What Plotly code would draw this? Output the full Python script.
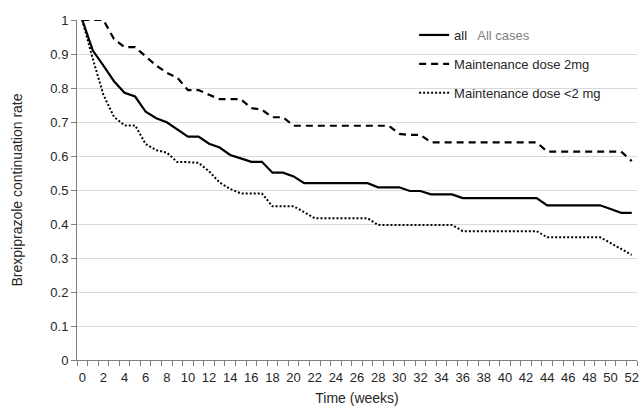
import plotly.graph_objects as go

weeks = list(range(53))

all_cases = [1.0, 0.91, 0.866, 0.82, 0.786, 0.775, 0.73, 0.711, 0.699, 0.678,
             0.657, 0.657, 0.636, 0.625, 0.603, 0.593, 0.583, 0.583, 0.551, 0.551,
             0.54, 0.52, 0.52, 0.52, 0.52, 0.52, 0.52, 0.52, 0.508, 0.508,
             0.508, 0.497, 0.497, 0.487, 0.487, 0.487, 0.476, 0.476, 0.476, 0.476,
             0.476, 0.476, 0.476, 0.476, 0.455, 0.455, 0.455, 0.455, 0.455, 0.455,
             0.444, 0.433, 0.433]

dose_2mg = [1.0, 1.0, 1.0, 0.944, 0.92, 0.92, 0.893, 0.866, 0.845, 0.83,
            0.794, 0.794, 0.78, 0.767, 0.767, 0.767, 0.741, 0.736, 0.714, 0.714,
            0.689, 0.689, 0.689, 0.689, 0.689, 0.689, 0.689, 0.689, 0.689, 0.689,
            0.665, 0.662, 0.662, 0.64, 0.64, 0.64, 0.64, 0.64, 0.64, 0.64,
            0.64, 0.64, 0.64, 0.64, 0.613, 0.613, 0.613, 0.613, 0.613, 0.613,
            0.613, 0.613, 0.585]

dose_lt2mg = [1.0, 0.885, 0.78, 0.715, 0.69, 0.69, 0.635, 0.617, 0.61, 0.582,
              0.582, 0.58, 0.555, 0.522, 0.503, 0.49, 0.49, 0.49, 0.452, 0.452,
              0.452, 0.435, 0.417, 0.417, 0.417, 0.417, 0.417, 0.417, 0.397, 0.397,
              0.397, 0.397, 0.397, 0.397, 0.397, 0.397, 0.379, 0.379, 0.379, 0.379,
              0.379, 0.379, 0.379, 0.379, 0.361, 0.361, 0.361, 0.361, 0.361, 0.361,
              0.344, 0.327, 0.309]

series_names = ["all <span style='color:#7f7f7f'>  All cases</span>",
                "Maintenance dose 2mg",
                "Maintenance dose <2 mg"]

y_ticks = [i / 10 for i in range(11)]
y_ticktext = ["0", "0.1", "0.2", "0.3", "0.4", "0.5", "0.6", "0.7", "0.8", "0.9", "1"]
x_label_ticks = list(range(0, 53, 2))
x_boundaries = [w - 0.5 for w in range(54)]

FONT = "Liberation Sans, Arial, sans-serif"
TXT = "#262626"

fig = go.Figure()
fig.add_trace(go.Scatter(x=weeks, y=all_cases, mode="lines", name=series_names[0],
                         line=dict(color="black", width=2.2), legendgroup="a"))
fig.add_trace(go.Scatter(x=weeks, y=dose_2mg, mode="lines", name=series_names[1],
                         line=dict(color="black", width=2.2, dash="7px,5px"), legendgroup="b"))
fig.add_trace(go.Scatter(x=weeks, y=dose_lt2mg, mode="lines", name=series_names[2],
                         line=dict(color="black", width=2, dash="2px,2px"), legendgroup="c"))

fig.update_layout(
    width=642, height=409,
    margin=dict(l=77, r=5, t=20, b=49),
    paper_bgcolor="white", plot_bgcolor="white",
    font=dict(family=FONT, size=13, color=TXT),
    legend=dict(x=0.602, y=1.0, xanchor="left", yanchor="top",
                bgcolor="rgba(0,0,0,0)", tracegroupgap=9,
                font=dict(size=13, color=TXT)),
    showlegend=True,
)

fig.update_xaxes(
    range=[-0.5, 52.5], showgrid=False, zeroline=False,
    showline=True, linecolor="#7f7f7f", linewidth=1,
    tickmode="array", tickvals=x_label_ticks,
    ticktext=[str(t) for t in x_label_ticks],
    ticks="outside", ticklen=5, tickcolor="rgba(0,0,0,0)",
    tickfont=dict(size=13, color=TXT),
    minor=dict(tickmode="array", tickvals=x_boundaries, ticks="outside",
               ticklen=5, tickcolor="#7f7f7f", tickwidth=1, showgrid=False),
    title=dict(text="Time (weeks)", font=dict(size=14, color=TXT), standoff=9),
    automargin=False,
)

fig.update_yaxes(
    range=[0, 1], showgrid=True, gridcolor="#d9d9d9", gridwidth=1,
    zeroline=False, showline=True, linecolor="#7f7f7f", linewidth=1,
    tickmode="array", tickvals=y_ticks, ticktext=y_ticktext,
    ticks="outside", ticklen=5, tickcolor="#7f7f7f",
    tickfont=dict(size=13, color=TXT),
    title=dict(text="Brexpiprazole continuation rate", font=dict(size=14, color=TXT), standoff=24),
    automargin=False,
)

fig.write_html("out.html", config={"displayModeBar": False},
               post_script="document.body.style.margin='0';document.body.style.padding='0';")
